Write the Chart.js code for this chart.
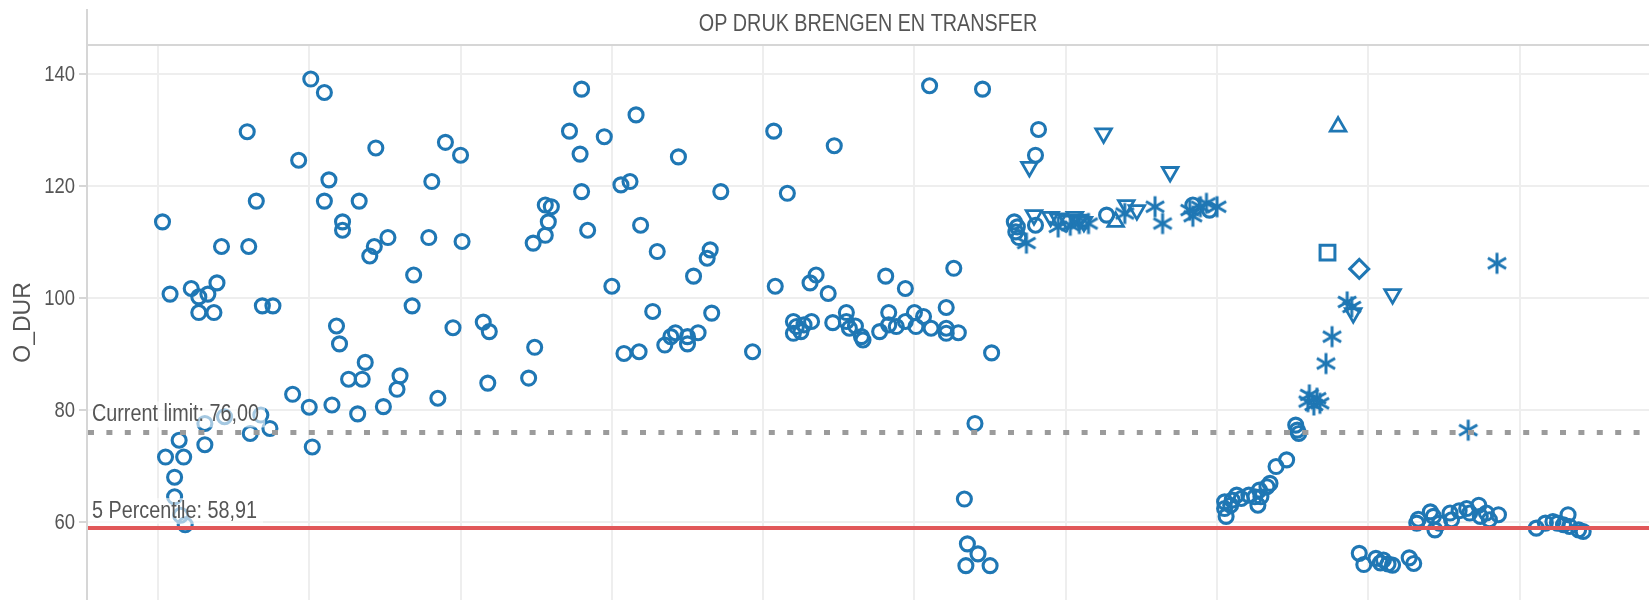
<!DOCTYPE html>
<html>
<head>
<meta charset="utf-8">
<script src="https://cdn.jsdelivr.net/npm/chart.js@4.4.1/dist/chart.umd.min.js"></script>
<style>
  html, body { margin: 0; padding: 0; background: #fff; overflow: hidden; }
  canvas { display: block; }
</style>
</head>
<body>
<canvas id="chart" width="1649" height="600" style="width:1649px;height:600px"></canvas>
<script>
// --- data (x in grid units, unlabeled in the original; y = O_DUR) ---
const chartTitle = 'OP DRUK BRENGEN EN TRANSFER';
const yTitle = 'O_DUR';
const yTicks = [60, 80, 100, 120, 140];
const xGrid = [0, 1, 2, 3, 4, 5, 6, 7, 8, 9];
const currentLimit = 76.00;
const percentile5 = 58.91;

const circles = [
  [0.59,129.7],[1.01,139.1],[1.10,136.7],[0.93,124.6],[1.13,121.1],[1.44,126.8],[1.90,127.8],[2.00,125.5],[1.81,120.8],
  [0.65,117.3],[1.10,117.3],[1.33,117.3],
  [0.03,113.6],[0.42,109.2],[0.60,109.2],[1.22,113.6],[1.22,112.1],[1.52,110.8],[1.43,109.2],[1.40,107.5],[1.79,110.8],[2.01,110.1],[1.69,104.1],[1.68,98.6],
  [0.08,100.7],[0.22,101.7],[0.27,100.2],[0.33,100.7],[0.39,102.7],[0.27,97.4],[0.37,97.4],[0.69,98.6],[0.76,98.6],
  [1.18,95.0],[1.20,91.8],[1.37,88.5],[1.26,85.5],[1.35,85.5],[1.60,86.1],[1.58,83.7],[1.95,94.7],[2.15,95.7],[2.19,94.0],[2.49,91.2],[2.18,84.8],[2.45,85.7],
  [0.89,82.8],[1.85,82.1],[1.49,80.6],[1.00,80.5],[1.15,80.9],[1.32,79.3],
  [2.56,116.6],[2.60,116.3],[2.58,113.6],[2.56,111.2],[2.48,109.8],
  [0.05,71.6],[0.14,74.6],[0.17,71.6],[0.11,68.0],[0.11,64.5],[0.15,61.2],[0.18,59.5],[0.31,77.6],[0.44,78.8],[0.68,79.1],[0.31,73.8],[0.61,75.8],[0.74,76.7],[1.02,73.4],
  [2.80,137.3],[2.72,129.8],[2.95,128.8],[3.16,132.7],[2.79,125.7],[3.44,125.2],[3.06,120.2],[3.12,120.8],[2.80,119.0],[3.72,119.0],[4.07,129.8],[4.47,127.2],[4.16,118.7],[5.10,137.9],[5.45,137.3],[5.82,130.1],[5.80,125.5],
  [2.84,112.1],[3.19,113.0],[3.30,108.3],[3.65,108.6],[3.63,107.1],[3.54,103.9],[3.00,102.1],[3.27,97.6],[3.66,97.3],[3.08,90.1],[3.18,90.4],[3.35,91.6],[3.39,93.1],[3.42,93.8],[3.50,93.1],[3.50,91.8],[3.57,93.8],[3.93,90.4],
  [4.08,102.1],[4.31,102.7],[4.35,104.1],[4.43,100.8],[4.81,103.9],[4.94,101.7],[5.26,105.3],[5.51,90.2],
  [4.20,95.8],[4.22,94.9],[4.20,93.7],[4.27,95.2],[4.32,95.8],[4.25,94.0],
  [4.46,95.6],[4.55,97.4],[4.55,95.8],[4.57,94.6],[4.61,95.0],[4.65,93.1],[4.66,92.5],[4.77,94.0],[4.83,97.4],[4.83,95.2],[4.88,94.9],[4.94,95.8],[5.00,97.4],[5.01,94.9],[5.06,96.7],[5.11,94.6],[5.21,98.3],[5.21,94.6],[5.21,93.7],[5.29,93.8],
  [5.40,77.6],[5.33,64.1],[5.35,56.1],[5.42,54.3],[5.34,52.2],[5.50,52.2],
  [5.66,113.6],[5.68,112.7],[5.67,111.8],[5.69,110.8],[5.80,113.0],[6.27,114.8],[6.84,116.6],[6.95,115.7],
  [7.52,77.3],[7.53,76.4],[7.54,75.8],[7.46,71.1],[7.39,69.9],[7.35,66.9],[7.33,66.3],[7.28,65.7],[7.27,63.0],[7.29,64.5],[7.25,64.5],[7.21,64.8],[7.16,64.2],[7.13,64.8],[7.10,63.9],[7.09,63.0],[7.05,63.6],[7.06,61.0],[7.05,62.4],
  [7.94,54.4],[7.97,52.4],[8.05,53.5],[8.08,52.7],[8.13,52.5],[8.16,52.3],[8.27,53.6],[8.30,52.6],[8.10,53.2],
  [8.32,59.8],[8.41,61.8],[8.43,61.0],[8.44,58.6],[8.47,59.8],[8.54,61.6],[8.55,60.4],[8.65,62.4],[8.67,61.6],[8.73,63.0],[8.74,61.0],[8.78,61.6],[8.80,60.4],[8.86,61.3],[8.33,60.5],[8.60,62.0],
  [9.11,58.9],[9.17,59.8],[9.22,60.1],[9.25,59.8],[9.32,61.3],[9.33,59.2],[9.39,58.6],[9.42,58.3],[9.29,59.5]
];
const trianglesDown = [
  [5.76,123.4],[6.25,129.4],[6.69,122.5],[5.79,114.8],[5.90,114.5],[5.95,114.2],[6.01,113.8],[6.06,114.5],[6.09,114.0],[6.12,113.6],[6.40,116.6],[6.47,115.7],[8.16,100.7],[7.90,97.3]
];
const trianglesUp = [[6.33,113.6],[7.80,130.6]];
const asterisks = [
  [5.74,109.8],[5.95,112.7],[6.03,113.0],[6.09,113.3],[6.15,113.3],[6.39,115.1],[6.59,116.3],[6.64,113.3],[6.82,115.7],[6.89,116.3],[6.93,116.9],[7.00,116.3],[6.84,114.6],
  [7.61,82.7],[7.66,82.1],[7.64,80.9],[7.68,81.2],[7.60,81.5],[7.76,93.1],[7.72,88.3],[7.86,99.3],[7.89,98.4],[8.66,76.4],[8.85,106.2]
];
const squares = [[7.73,108.1]];
const diamonds = [[7.94,105.2]];

const blue = '#1f77b4';
const textGrey = '#555555';
const sans = "'Liberation Sans', Arial, sans-serif";

function toPoints(arr) {
  return arr.map(function(p) { return { x: p[0], y: p[1] }; });
}

// asterisk marker (6 arms), drawn once and used as pointStyle
function makeAsterisk() {
  const c = document.createElement('canvas');
  c.width = 24; c.height = 26;
  const g = c.getContext('2d');
  g.strokeStyle = blue;
  g.lineWidth = 3;
  const cx = 12, cy = 13, r = 10.5;
  [90, 30, 150].forEach(function(a) {
    const t = a * Math.PI / 180;
    g.beginPath();
    g.moveTo(cx + Math.cos(t) * r, cy - Math.sin(t) * r);
    g.lineTo(cx - Math.cos(t) * r, cy + Math.sin(t) * r);
    g.stroke();
  });
  return c;
}

function shapeSet(label, arr, style, radius, extra) {
  return Object.assign({
    label: label,
    data: toPoints(arr),
    pointStyle: style,
    pointRadius: radius,
    pointHoverRadius: radius,
    borderColor: blue,
    backgroundColor: 'rgba(0,0,0,0)',
    borderWidth: 3,
    showLine: false
  }, extra || {});
}

// condensed text: the original uses a narrow face, squeeze a regular one
function narrowText(ctx, text, x, y, align, size, sx) {
  ctx.save();
  ctx.font = size + 'px ' + sans;
  ctx.textAlign = align;
  ctx.translate(x, y);
  ctx.scale(sx, 1);
  ctx.fillText(text, 0, 0);
  ctx.restore();
}

// header, tick labels, reference lines and their labels
const decor = {
  id: 'decor',
  afterDatasetsDraw(chart) {
    const ctx = chart.ctx;
    const area = chart.chartArea;
    const y = chart.scales.y;

    ctx.save();
    // y tick labels
    ctx.fillStyle = textGrey;
    ctx.textBaseline = 'middle';
    yTicks.forEach(function(v) {
      narrowText(ctx, String(v), area.left - 12, y.getPixelForValue(v) + 1, 'right', 22, 0.84);
    });

    // dotted current limit
    const yl = y.getPixelForValue(currentLimit);
    ctx.strokeStyle = '#9b9b9b';
    ctx.lineWidth = 5;
    ctx.setLineDash([6, 12.4]);
    ctx.beginPath();
    ctx.moveTo(area.left + 1, yl);
    ctx.lineTo(area.right, yl);
    ctx.stroke();
    ctx.setLineDash([]);

    // 5 percentile
    const yp = y.getPixelForValue(percentile5);
    ctx.strokeStyle = '#e15759';
    ctx.lineWidth = 4;
    ctx.beginPath();
    ctx.moveTo(area.left + 1, yp);
    ctx.lineTo(area.right, yp);
    ctx.stroke();

    // labels with faded background
    ctx.font = '23px ' + sans;
    ctx.textBaseline = 'alphabetic';
    [['Current limit: 76,00', yl - 11], ['5 Percentile: 58,91', yp - 10]].forEach(function(l) {
      const w = ctx.measureText(l[0]).width * 0.86;
      ctx.fillStyle = 'rgba(255,255,255,0.6)';
      ctx.fillRect(area.left + 1, l[1] - 20, w + 10, 26);
      ctx.fillStyle = textGrey;
      narrowText(ctx, l[0], area.left + 5, l[1], 'left', 23, 0.86);
    });

    // header band
    ctx.fillStyle = textGrey;
    ctx.textBaseline = 'middle';
    narrowText(ctx, chartTitle, (area.left + area.right) / 2, 25, 'center', 23, 0.86);
    ctx.strokeStyle = '#d6d6d6';
    ctx.lineWidth = 2;
    ctx.beginPath();
    ctx.moveTo(area.left, area.top);
    ctx.lineTo(area.right, area.top);
    ctx.moveTo(area.left, 9);
    ctx.lineTo(area.left, area.top);
    ctx.stroke();
    ctx.restore();
  }
};

const config = {
  type: 'scatter',
  data: {
    datasets: [
      shapeSet('circle', circles, 'circle', 7, { borderWidth: 3.1 }),
      shapeSet('triangle down', trianglesDown, 'triangle', 9, { rotation: 180, borderWidth: 2.8 }),
      shapeSet('triangle up', trianglesUp, 'triangle', 9, { borderWidth: 2.8 }),
      shapeSet('asterisk', asterisks, makeAsterisk(), 10),
      shapeSet('square', squares, 'rect', 10.5),
      shapeSet('diamond', diamonds, 'rectRot', 9.5)
    ]
  },
  options: {
    responsive: false,
    animation: false,
    devicePixelRatio: 1,
    layout: { autoPadding: false, padding: { top: 45, left: 0, right: 0, bottom: 0 } },
    plugins: {
      legend: { display: false },
      tooltip: { enabled: false }
    },
    scales: {
      x: {
        type: 'linear',
        min: -0.469,
        max: 9.855,
        afterBuildTicks: function(scale) {
          scale.ticks = xGrid.map(function(v) { return { value: v }; });
        },
        afterFit: function(scale) { scale.height = 0; },
        ticks: { display: false },
        border: { display: false },
        grid: { color: '#eeeeee', lineWidth: 2, drawTicks: false }
      },
      y: {
        type: 'linear',
        min: 46.07,
        max: 145.18,
        afterBuildTicks: function(scale) {
          scale.ticks = yTicks.map(function(v) { return { value: v }; });
        },
        afterFit: function(scale) { scale.width = 87; },
        ticks: { display: false },
        border: { display: true, color: '#d6d6d6', width: 2 },
        grid: { color: '#eeeeee', lineWidth: 2, drawTicks: true, tickLength: 8, tickColor: '#d6d6d6' },
        title: {
          display: true,
          text: yTitle,
          color: textGrey,
          font: { family: sans, size: 23 },
          padding: { top: 10, bottom: 0 }
        }
      }
    }
  },
  plugins: [decor]
};

var ctx = document.getElementById('chart');
var chart = new Chart(ctx, config);
</script>
</body>
</html>
